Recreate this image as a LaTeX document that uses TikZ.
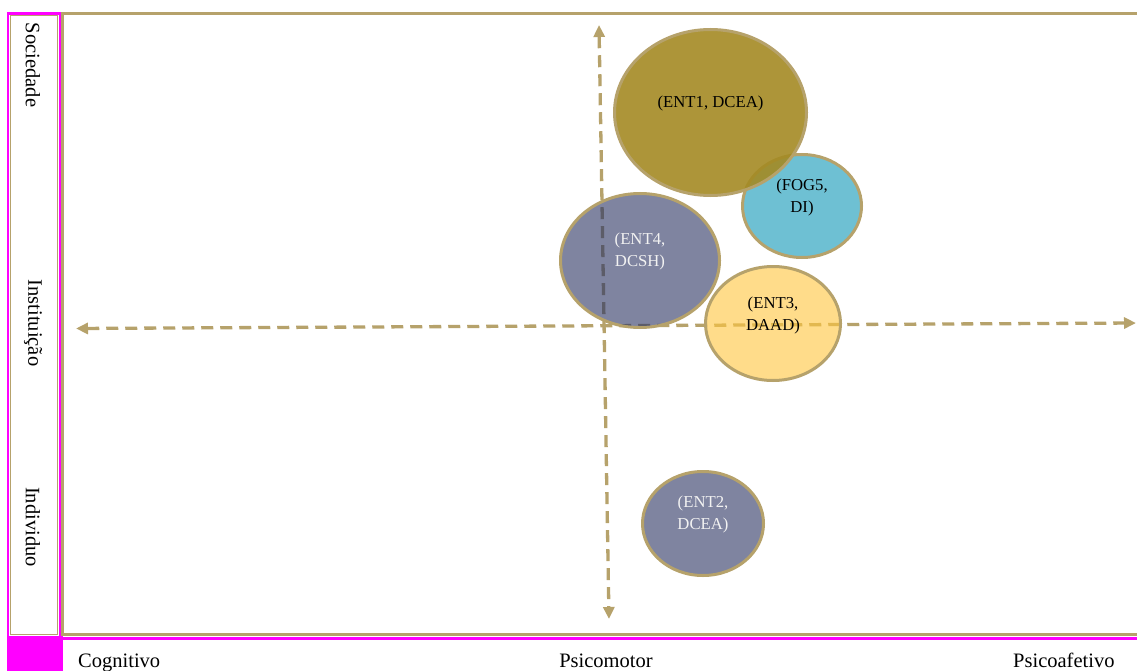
\documentclass[tikz,border=0pt]{standalone}
\usepackage{fontspec}
\setmainfont{Liberation Serif}
\usetikzlibrary{shapes.geometric,arrows.meta}
\definecolor{frametan}{HTML}{B6A26B}
\definecolor{mag}{HTML}{FF00FF}
\definecolor{olivefill}{HTML}{A48A23}
\definecolor{cyanfill}{HTML}{6EC0D3}
\definecolor{slatefill}{HTML}{7F84A0}
\definecolor{yellowfill}{HTML}{FFDC8A}
\definecolor{lighttext}{HTML}{F2F2F2}
\definecolor{dashslate}{HTML}{5C5C68}
\definecolor{dashyellow}{HTML}{E2B850}
\tikzset{
  bubble/.style={ellipse, draw=frametan, line width=3pt, inner sep=0pt},
  bubbletext/.style={align=center, font=\fontsize{16.7}{22}\selectfont, inner sep=0pt},
  axislabel/.style={font=\fontsize{20.5}{24}\selectfont, inner sep=0pt},
  axisline/.style={draw=frametan, line width=3.3pt, dash pattern=on 12pt off 7pt,
    {Triangle[length=12pt,width=11pt]}-{Triangle[length=12pt,width=11pt]}},
  frameline/.style={frametan, line width=3pt},
  magline/.style={mag, line width=2.5pt}
}
\begin{document}
\begin{tikzpicture}[x=1pt,y=-1pt]
\useasboundingbox (0,0) rectangle (1137,671);
% left panel
\draw[frametan, line width=0.8pt] (10,15.5) rectangle (57.5,634.5);
\draw[magline] (8.2,636) -- (8.2,13.5) -- (59.8,13.5) -- (59.8,636);
% main frame
\draw[frameline] (1137,13.5) -- (62.5,13.5) -- (62.5,634.5) -- (1137,634.5);
% bottom magenta
\fill[mag] (7,636) rectangle (62.5,671);
\draw[mag, line width=3pt] (62,638) -- (1137,638);
% vertical labels
\node[axislabel, rotate=-90] (soc) at (33,65) {Sociedade};
\node[axislabel, rotate=-90] (inst) at (33,323) {Instituição};
\node[axislabel, rotate=-90] (indiv) at (33,527) {Individuo};
% bottom labels
\node[axislabel, anchor=base west] (cog) at (78,667) {Cognitivo};
\node[axislabel, anchor=base] (psm) at (606,667) {Psicomotor};
\node[axislabel, anchor=base west] (psa) at (1013,667) {Psicoafetivo};
% axes
\coordinate (hL) at (76,328.5);
\coordinate (hR) at (1136,323);
\coordinate (vT) at (599,25);
\coordinate (vB) at (609,619);
\draw[axisline] (hL) -- (hR);
\draw[axisline] (vT) -- (vB);
% bubbles
\node[bubble, fill=cyanfill, minimum width=119pt, minimum height=103pt] (fog5) at (802,206) {};
\node[bubble, fill=olivefill, fill opacity=0.9, minimum width=192pt, minimum height=166pt] (ent1) at (710.5,112.5) {};
\node[bubble, fill=slatefill, minimum width=159pt, minimum height=134pt] (ent4) at (640,260.5) {};
\node[bubble, fill=yellowfill, minimum width=135pt, minimum height=114pt] (ent3) at (773,323.5) {};
\node[bubble, fill=slatefill, minimum width=121pt, minimum height=104pt] (ent2) at (703,523.5) {};
% axes seen through the bubbles
\begin{scope}
\clip (ent4.center) ellipse [x radius=78pt, y radius=65.5pt];
\draw[axisline, draw=dashslate] (hL) -- (hR);
\draw[axisline, draw=dashslate] (vT) -- (vB);
\end{scope}
\begin{scope}
\clip (ent3.center) ellipse [x radius=66pt, y radius=55.5pt];
\draw[axisline, draw=dashyellow] (hL) -- (hR);
\end{scope}
% bubble texts
\node[bubbletext] (t1) at ([yshift=9pt]ent1.center) {(ENT1, DCEA)};
\node[bubbletext] (t5) at ([yshift=8.5pt]fog5.center) {(FOG5,\\DI)};
\node[bubbletext, text=lighttext] (t4) at ([yshift=9pt]ent4.center) {(ENT4,\\DCSH)};
\node[bubbletext] (t3) at ([yshift=8.5pt]ent3.center) {(ENT3,\\DAAD)};
\node[bubbletext, text=lighttext] (t2) at ([yshift=9pt]ent2.center) {(ENT2,\\DCEA)};
\end{tikzpicture}
\end{document}
